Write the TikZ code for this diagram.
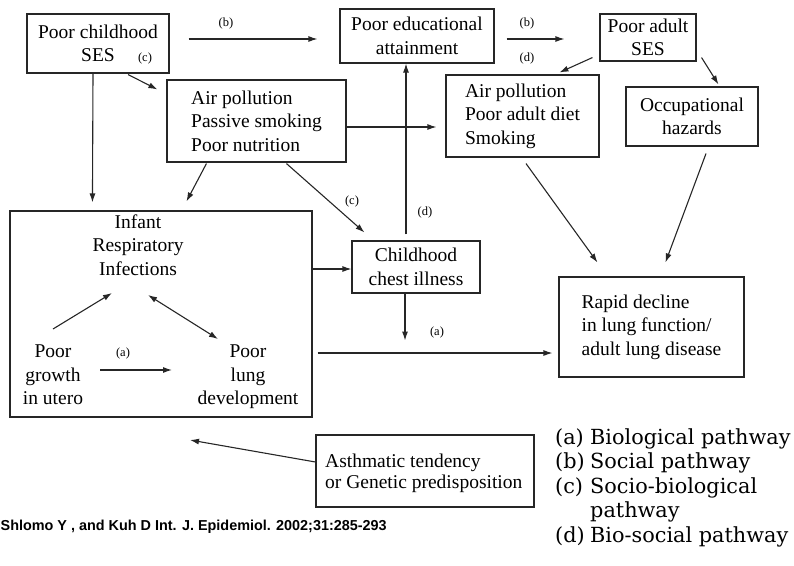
\documentclass[tikz,border=0pt]{standalone}
\usepackage{fontspec}
\setmainfont{Liberation Serif}
\newfontfamily\legfont{DejaVu Serif}
\newfontfamily\footfont{Liberation Sans}
\usetikzlibrary{arrows.meta,calc}
\newcommand\mainsz{\fontsize{19.5}{23.5}\selectfont}
\newcommand\labsz{\fontsize{12.5}{14}\selectfont}
\newcommand\legsz{\fontsize{20.8}{24.5}\selectfont}
\begin{document}
\begin{tikzpicture}[x=1pt,y=-1pt,
  box/.style={draw=black!85, line width=1.1pt, inner sep=0pt, align=center, font=\mainsz},
  lbox/.style={box, align=left},
  txt/.style={inner sep=0pt, align=center, font=\mainsz},
  lab/.style={inner sep=0pt, font=\labsz},
  arr/.style={draw=black!85, line width=1.1pt, -{Latex[length=9pt,width=6pt]}},
  darr/.style={draw=black!85, line width=1.1pt, {Latex[length=9pt,width=6pt]}-{Latex[length=9pt,width=6pt]}},
  leg/.style={inner sep=0pt, anchor=base west, font=\legfont\legsz}]
\useasboundingbox (0,0) rectangle (794,565);
% boxes
\node[box, minimum width=142pt, minimum height=59pt] (cses) at (98,43.5) {Poor childhood\\SES};
\node[box, minimum width=154pt, minimum height=54pt] (edu) at (417,36) {Poor educational\\attainment};
\node[box, minimum width=96pt, minimum height=47pt] (ases) at (648,37.5) {Poor adult\\SES};
\node[lbox, minimum width=153pt, minimum height=82pt] (ap2) at (522.5,116) {Air pollution\\Poor adult diet\\Smoking};
\node[box, minimum width=132pt, minimum height=59pt] (occ) at (692,116.5) {Occupational\\hazards};
\node[lbox, minimum width=179pt, minimum height=82pt] (ap1) at (256.5,121) {Air pollution\\Passive smoking\\Poor nutrition};
\node[box, minimum width=302pt, minimum height=206pt] (infant) at (161,314) {};
\node[box, minimum width=128pt, minimum height=52pt] (chest) at (416,267) {Childhood\\chest illness};
\node[lbox, minimum width=185pt, minimum height=100pt] (rapid) at (651.5,327) {Rapid decline\\in lung function/\\adult lung disease};
\node[box, minimum width=218pt, minimum height=72pt] (asthma) at (425,471) {};
\node[txt, align=left, anchor=west, font=\fontsize{19.5}{21}\selectfont] (asthmatxt) at (325,473) {Asthmatic tendency\\or Genetic predisposition};
% texts inside infant box
\node[txt] (iri) at (138,245) {Infant\\Respiratory\\Infections};
\node[txt] (growth) at (53,375) {Poor\\growth\\in utero};
\node[txt] (lung) at (248,377) {Poor\\lung\\development};
% small labels
\node[lab] (lc1) at (145,58) {(c)};
\node[lab] (lb1) at (226,23) {(b)};
\node[lab] (lb2) at (527,23) {(b)};
\node[lab] (ld1) at (527,58) {(d)};
\node[lab] (ld2) at (425,212) {(d)};
\node[lab] (lc2) at (352,201) {(c)};
\node[lab] (la1) at (123,353) {(a)};
\node[lab] (la2) at (437,332) {(a)};
% connectors
\draw[arr] ($(cses.south)+(30,1)$) -- ($(ap1.north west)+(-9,10)$);
\draw[arr] ($(cses.south)+(-5,0)$) -- ($(infant.north west)+(83,-8)$);
\draw[arr] ($(cses.east)+(19,-4.5)$) -- ($(edu.west)+(-22,3)$);
\draw[arr] ($(edu.east)+(12,3)$) -- ($(ases.west)+(-35,1.5)$);
\draw[arr] ($(ases.south west)+(-7,-4)$) -- ($(ap2.north west)+(114,-2)$);
\draw[arr] ($(ases.south east)+(5,-4)$) -- ($(occ.north west)+(93,-2)$);
\draw[arr] ($(ap1.east)+(0,6)$) -- ($(ap2.west)+(-9,11)$);
\draw[arr] ($(ap1.south west)+(40,1)$) -- ($(infant.north west)+(177,-9)$);
\draw[arr] ($(ap1.south west)+(120,1)$) -- ($(chest.north west)+(13,-8)$);
\draw[arr] ($(chest.north)+(-10,-6)$) -- ($(edu.south)+(-11,0)$);
\draw[arr] ($(infant.east)+(0,-45)$) -- ($(chest.west)+(0,2)$);
\coordinate (chestend) at ($(chest.south)+(-11,47)$);
\draw[arr] ($(chest.south)+(-11,0)$) -- (chestend);
\draw[arr] ($(infant.east)+(5,39)$) -- ($(rapid.west)+(-6,26)$);
\draw[arr] ($(ap2.south)+(3.5,6)$) -- ($(rapid.north west)+(39,-14)$);
\draw[arr] ($(occ.south)+(14,7)$) -- ($(rapid.north west)+(107,-14)$);
\draw[arr] ($(growth.center)+(0,-46)$) -- ($(iri.center)+(-26,48)$);
\draw[darr] ($(iri.center)+(10,50)$) -- ($(lung.center)+(-30,-38)$);
\draw[arr] ($(growth.center)+(47,-5)$) -- ($(lung.center)+(-76,-7)$);
\coordinate (asthmatip) at (190,440);
\draw[arr] ($(asthma.west)+(0,-9)$) -- (asthmatip);
% legend
\node[leg] (lega) at (555,444) {\makebox[35pt][l]{(a)}Biological pathway};
\node[leg] (legb) at (555,468.5) {\makebox[35pt][l]{(b)}Social pathway};
\node[leg] (legc) at (555,493) {\makebox[35pt][l]{(c)}Socio-biological};
\node[leg] (legc2) at (555,517.5) {\makebox[35pt][l]{}pathway};
\node[leg] (legd) at (555,542) {\makebox[35pt][l]{(d)}Bio-social pathway};
% footer
\node[inner sep=0pt, anchor=base west, font=\footfont\bfseries\fontsize{14.4}{16}\selectfont] (foot) at (0.5,530) {Shlomo Y , and Kuh D Int. J. Epidemiol. 2002;31:285-293};
\end{tikzpicture}
\end{document}
